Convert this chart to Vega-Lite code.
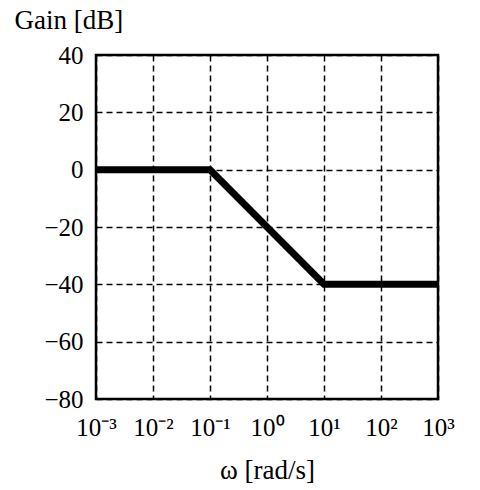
{
  "$schema": "https://vega.github.io/schema/vega-lite/v6.json",
  "width": 342,
  "height": 344,
  "autosize": {"type": "none"},
  "padding": {"left": 96, "top": 55, "right": 42, "bottom": 91},
  "background": "white",
  "config": {
    "font": "Liberation Serif",
    "view": {"stroke": "black", "strokeWidth": 2.5},
    "axis": {
      "grid": true,
      "gridColor": "black",
      "gridDash": [6, 4],
      "gridWidth": 1.5,
      "gridOpacity": 1,
      "ticks": false,
      "domain": false,
      "labelFont": "Liberation Serif",
      "labelFontSize": 25,
      "labelColor": "black",
      "labelOverlap": false,
      "labelFlush": false,
      "titleFont": "Liberation Serif",
      "titleFontSize": 27,
      "titleFontWeight": "normal",
      "titleColor": "black"
    }
  },
  "data": {
    "values": [
      {"w": 0.001, "gain": 0},
      {"w": 0.1, "gain": 0},
      {"w": 10, "gain": -40},
      {"w": 1000, "gain": -40}
    ]
  },
  "mark": {"type": "line", "color": "black", "strokeWidth": 7, "clip": true},
  "encoding": {
    "x": {
      "field": "w",
      "type": "quantitative",
      "scale": {"type": "log", "domain": [0.001, 1000], "nice": false},
      "axis": {
        "values": [0.001, 0.01, 0.1, 1, 10, 100, 1000],
        "labelExpr": "'10' + replace(replace(replace(replace(replace('' + round(log(datum.value)/LN10), '-', '⁻'), '0', '⁰'), '1', '¹'), '2', '²'), '3', '³')",
        "labelFontSize": 25,
        "labelPadding": 16,
        "labelBaseline": "top",
        "title": "ω [rad/s]",
        "titleBaseline": "alphabetic",
        "titleY": 79
      }
    },
    "y": {
      "field": "gain",
      "type": "quantitative",
      "scale": {"domain": [-80, 40], "nice": false, "zero": false},
      "axis": {
        "values": [-80, -60, -40, -20, 0, 20, 40],
        "labelPadding": 13,
        "title": "Gain [dB]",
        "titleAngle": 0,
        "titleAlign": "left",
        "titleBaseline": "alphabetic",
        "titleX": -82,
        "titleY": -27
      }
    }
  }
}
